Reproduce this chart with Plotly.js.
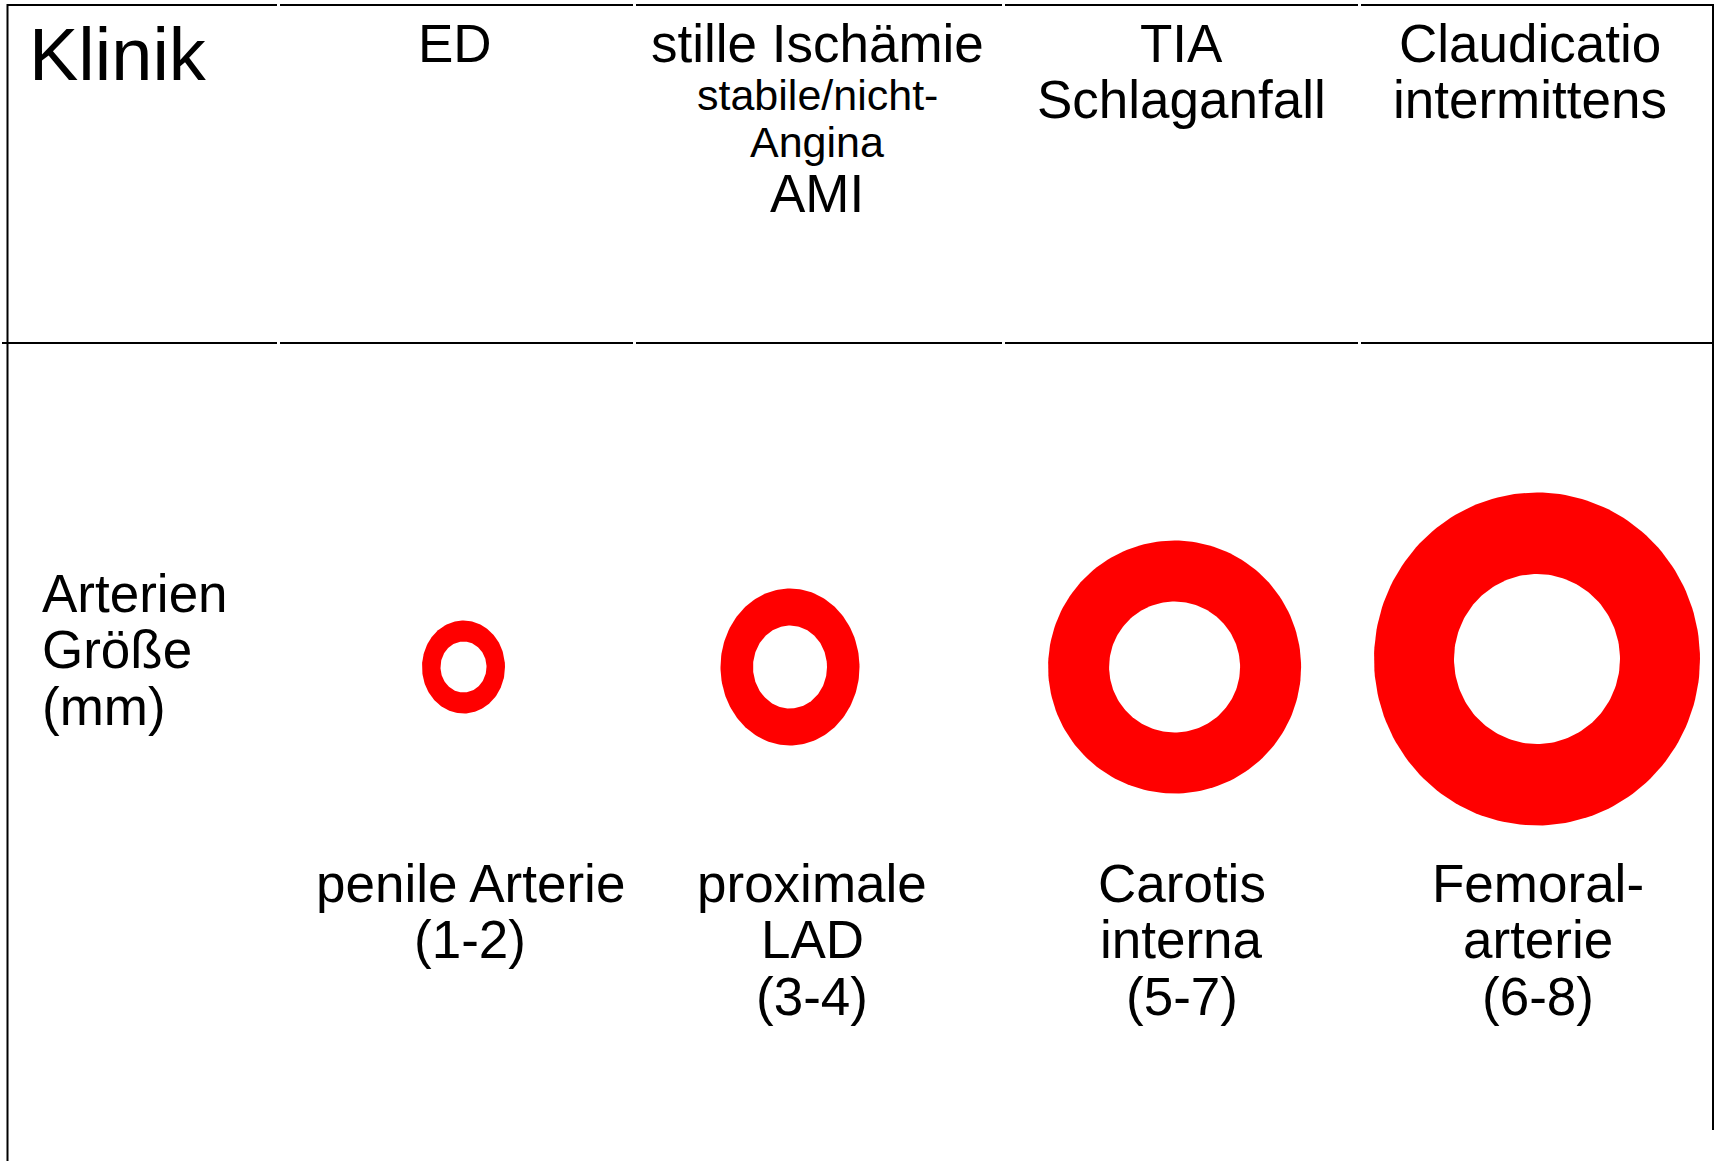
<!DOCTYPE html>
<html>
<head>
<meta charset="utf-8">
<script src="https://cdn.plot.ly/plotly-3.0.1.min.js"></script>
<style>html,body{margin:0;padding:0;background:#fff;}#chart{width:1721px;height:1161px;}</style>
</head>
<body>
<div id="chart"></div>
<script>
// ---- data ----
const rowTitleClinic = "Klinik";
const rowTitleSize = ["Arterien", "Größe", "(mm)"];
const clinicLines = [
  ["ED"],
  ["stille Ischämie", "stabile/nicht-", "Angina", "AMI"],
  ["TIA", "Schlaganfall"],
  ["Claudicatio", "intermittens"]
];
const arteryLines = [
  ["penile Arterie"],
  ["proximale", "LAD"],
  ["Carotis", "interna"],
  ["Femoral-", "arterie"]
];
const diameterRange = ["1-2", "3-4", "5-7", "6-8"];
// ring (vessel) drawing diameters: outer wall and lumen
const ringOuterW = [83, 139, 253, 326];
const ringOuterH = [93, 157, 253, 333];
const ringInnerW = [46, 74, 131, 166];
const ringInnerH = [51, 83, 131, 170];

// ---- layout constants (positions / styles) ----
const W = 1721, H = 1161;
const FONT = "'Liberation Sans', Arial, Helvetica, sans-serif";
const colSegX = [[7, 277], [280, 633], [636, 1002], [1005, 1358], [1361, 1713]];
const midSegX = [[2, 277], [280, 633], [636, 1002], [1005, 1358], [1361, 1712]];
const topY = 5, midY = 343;
const headerCX = [455, 817, 1181, 1530];
const headerBase = [[62], [62, 110, 157, 212], [62, 118], [62, 118]];
const headerSize = [[53], [53, 43, 43, 53], [53, 53], [53, 53]];
const ringCX = [463.5, 790, 1174.6, 1537];
const ringCY = [667, 667, 667, 659];
const labelCX = [470, 812, 1181.5, 1537.5];
const labelBase = [902, 958, 1015];
const RED = "#ff0000";

function ellipse(cx, cy, w, h) {
  const xs = [], ys = [];
  const n = 180;
  for (let i = 0; i <= n; i++) {
    const t = 2 * Math.PI * i / n;
    xs.push(cx + (w / 2) * Math.cos(t));
    ys.push(cy + (h / 2) * Math.sin(t));
  }
  return {xs, ys};
}

const traces = [];
ringOuterW.forEach((w, i) => {
  const o = ellipse(ringCX[i], ringCY[i], w, ringOuterH[i]);
  traces.push({type: "scatter", mode: "lines", x: o.xs, y: o.ys, fill: "toself",
    fillcolor: RED, line: {width: 0, color: RED}, hoverinfo: "skip", name: arteryLines[i].join(" ")});
  const inn = ellipse(ringCX[i], ringCY[i], ringInnerW[i], ringInnerH[i]);
  traces.push({type: "scatter", mode: "lines", x: inn.xs, y: inn.ys, fill: "toself",
    fillcolor: "#ffffff", line: {width: 0, color: "#ffffff"}, hoverinfo: "skip", name: "Lumen " + diameterRange[i]});
});

const ann = [];
function txt(text, x, baseline, size, anchor) {
  ann.push({text: text, x: x, y: baseline - 0.3465 * size, xref: "x", yref: "y",
    xanchor: anchor || "center", yanchor: "middle", showarrow: false,
    font: {family: FONT, size: size, color: "#000"}, borderpad: 0});
}
txt(rowTitleClinic, 28, 80, 74, "left");
clinicLines.forEach((lines, i) => lines.forEach((t, j) => txt(t, headerCX[i], headerBase[i][j], headerSize[i][j])));
[611.7, 668, 725].forEach((b, j) => txt(rowTitleSize[j], 41, b, 53, "left"));
arteryLines.forEach((lines, i) => {
  const all = lines.concat(["(" + diameterRange[i] + ")"]);
  all.forEach((t, j) => txt(t, labelCX[i], labelBase[j], 53));
});

const shapes = [];
function ln(x0, y0, x1, y1) {
  shapes.push({type: "line", xref: "x", yref: "y", x0, y0, x1, y1, line: {color: "#000", width: 2}});
}
colSegX.forEach(s => ln(s[0], topY, s[1], topY));
midSegX.forEach(s => ln(s[0], midY, s[1], midY));
ln(7.5, 4, 7.5, H);
ln(1713, 4, 1713, 1130);

const layout = {
  width: W, height: H,
  margin: {l: 0, r: 0, t: 0, b: 0, pad: 0},
  paper_bgcolor: "#ffffff", plot_bgcolor: "#ffffff",
  showlegend: false, hovermode: false,
  xaxis: {range: [0, W], visible: false, fixedrange: true},
  yaxis: {range: [H, 0], visible: false, fixedrange: true},
  annotations: ann, shapes: shapes
};
Plotly.newPlot("chart", traces, layout, {staticPlot: true, displayModeBar: false});
</script>
</body>
</html>
